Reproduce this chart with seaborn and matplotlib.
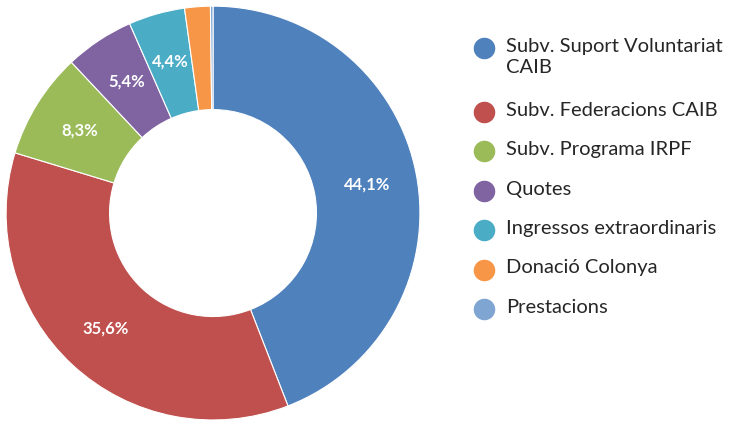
import numpy as np
import seaborn as sns
import matplotlib.pyplot as plt
from matplotlib.lines import Line2D

categories = ['Subv. Suport Voluntariat\nCAIB', 'Subv. Federacions CAIB', 'Subv. Programa IRPF',
              'Quotes', 'Ingressos extraordinaris', 'Donació Colonya', 'Prestacions']
values = [44.1, 35.6, 8.3, 5.4, 4.4, 2.0, 0.2]
colors = ['#4F81BD', '#C0504D', '#9BBB59', '#8064A2', '#4BACC6', '#F79646', '#7FA6D3']

sns.set_theme(style='white')
plt.rcParams['font.family'] = ['Lato', 'DejaVu Sans']
palette = sns.color_palette(colors)

W, H = 733, 421
fig = plt.figure(figsize=(W / 100, H / 100), dpi=100)
ax = fig.add_axes([0.0082, 0.0024, 0.5648, 0.983])


def fmt(p):
    return f'{p:.1f}%'.replace('.', ',') if p >= 3 else ''


wedges, texts, autotexts = ax.pie(
    values, colors=palette, startangle=90, counterclock=False,
    autopct=fmt, pctdistance=0.76,
    wedgeprops=dict(width=0.5, edgecolor='white', linewidth=0.8),
    textprops=dict(color='white', fontsize=12, fontweight='bold'))
ax.set_xlim(-1, 1)
ax.set_ylim(-1, 1)
ax.set_aspect('equal')

# legend drawn by hand: marker aligned with the first line of each label
y = 48
for lab, c in zip(categories, colors):
    fig.add_artist(Line2D([484 / W], [1 - y / H], marker='o', linestyle='', markersize=14.5,
                          markerfacecolor=c, markeredgecolor=c, transform=fig.transFigure))
    fig.text(506 / W, 1 - (y - 10) / H, lab, fontsize=14.5, color='#262626',
             va='top', ha='left', linespacing=1.3)
    y += 39.5 + 24 * lab.count('\n')

fig.savefig('out.png', dpi=100)
